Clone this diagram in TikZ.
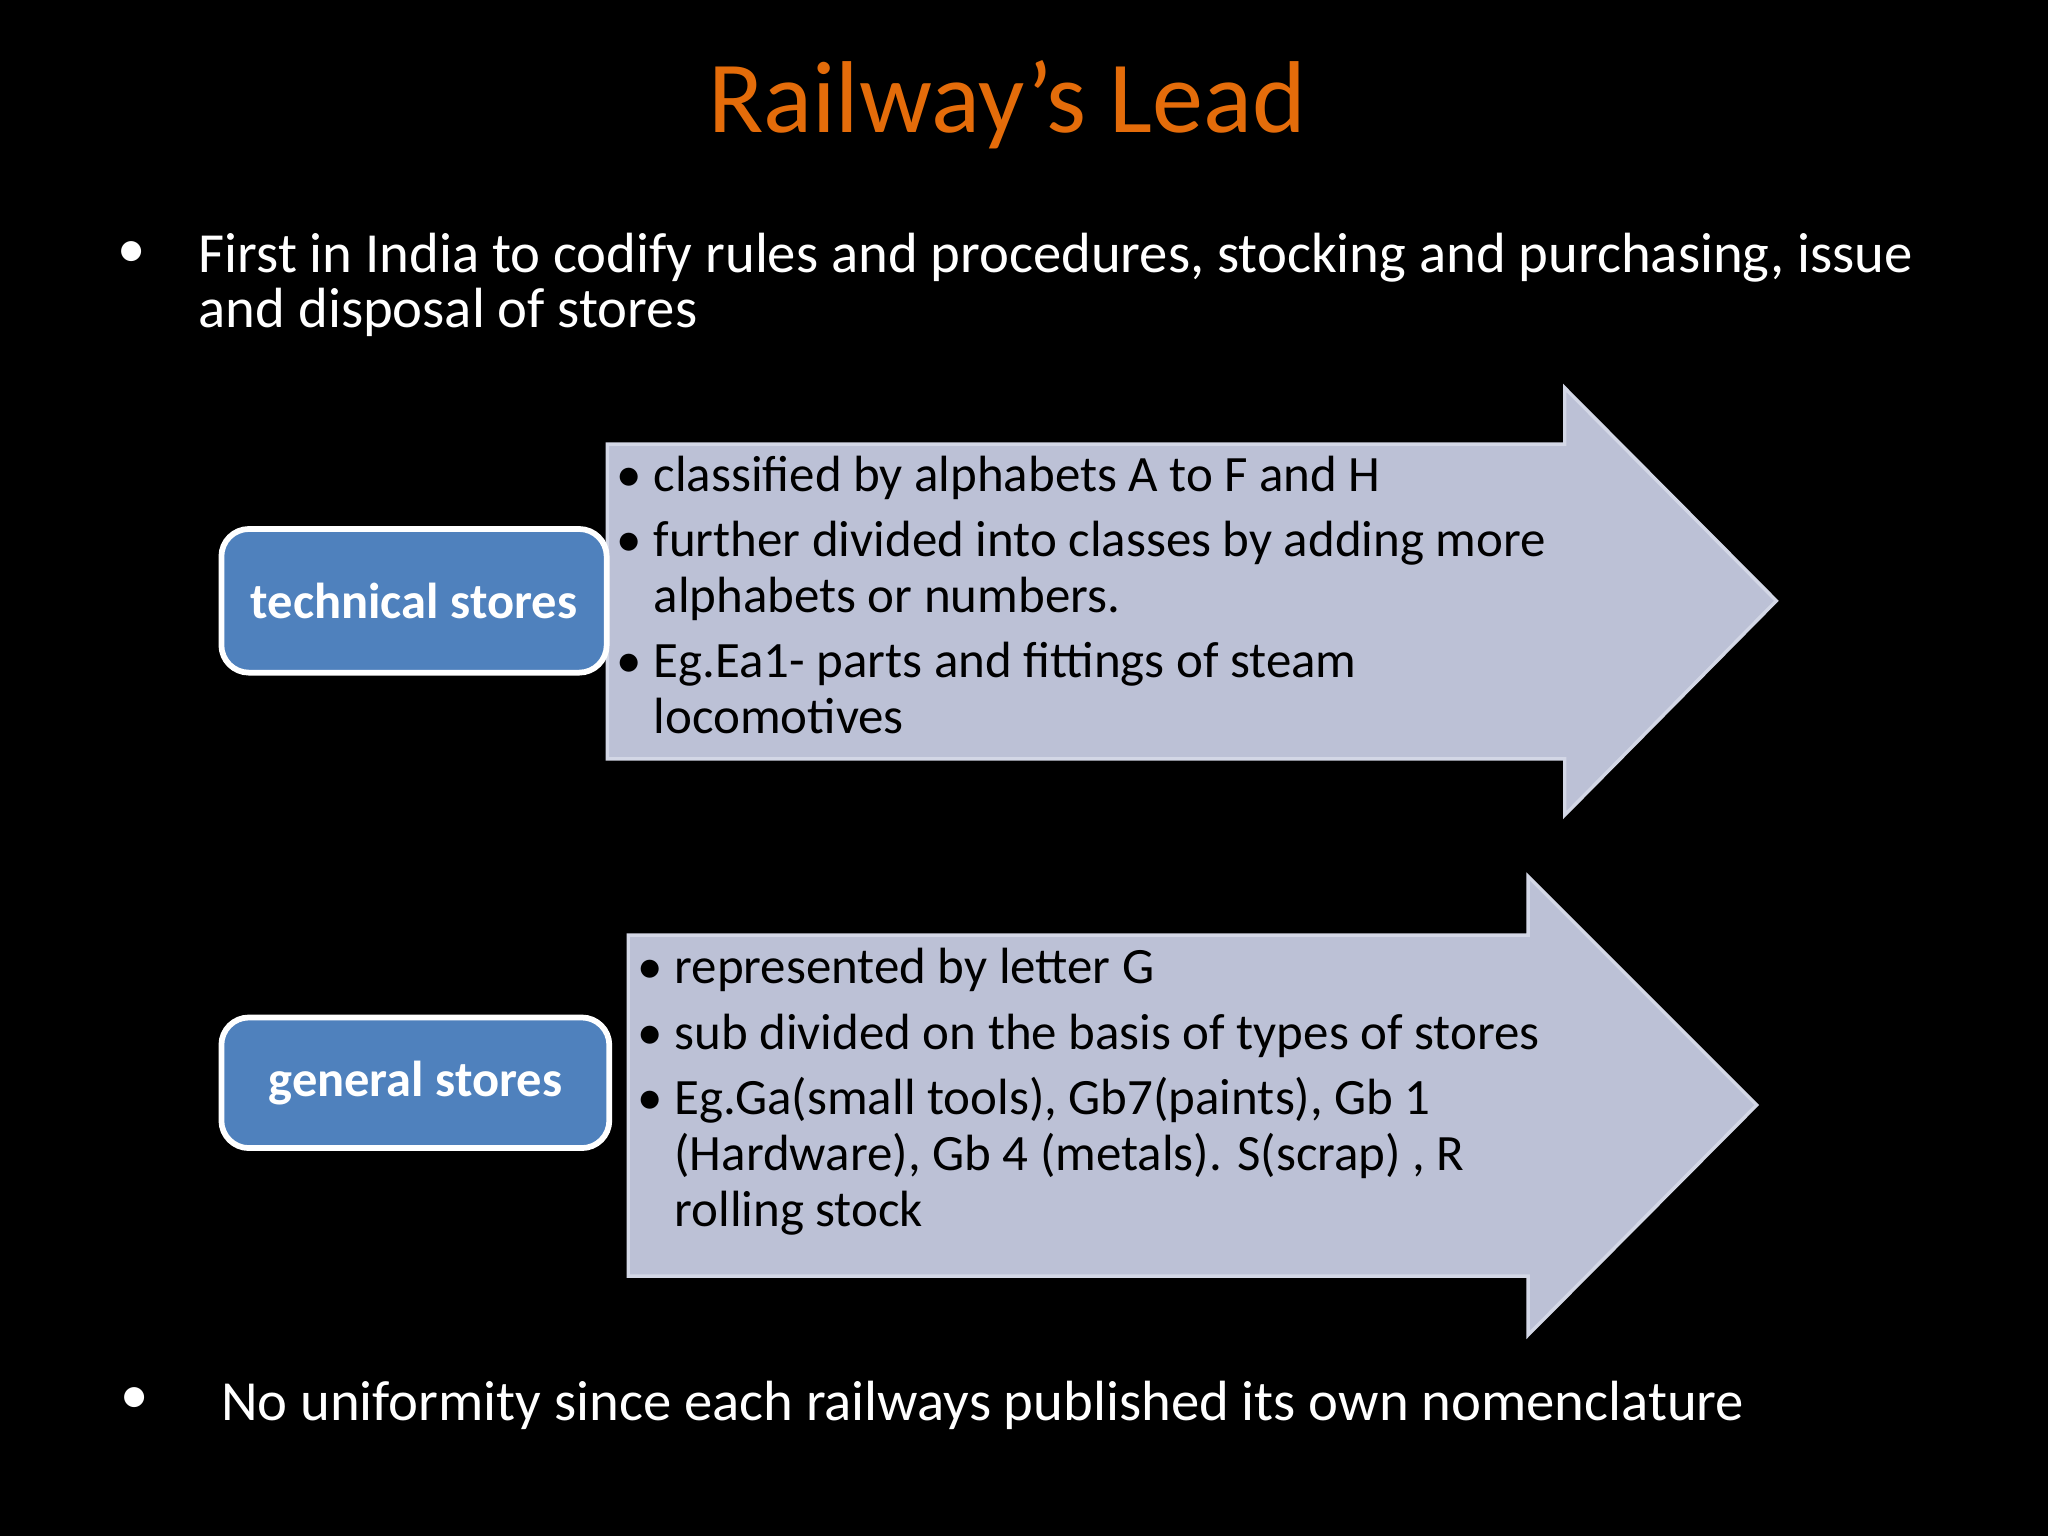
\documentclass[tikz,border=0pt]{standalone}
\usepackage{fontspec}
\setmainfont{Carlito}
\begin{document}
\begin{tikzpicture}[x=0.02cm,y=-0.02cm,
  arr/.style={fill=arrfill,draw=arrline,line width=1.5pt},
  cat/.style={draw=white,line width=2.5pt,fill=catfill,rounded corners=12pt,text=white,font=\bfseries\fontsize{22}{26}\selectfont},
  body/.style={text=white,font=\fontsize{24.7}{24}\selectfont,anchor=west},
  lst/.style={text=black,font=\fontsize{22.2}{24.4}\selectfont,anchor=north west,align=left}]
\definecolor{arrfill}{HTML}{BCC1D6}
\definecolor{arrline}{HTML}{D3D7E6}
\definecolor{catfill}{HTML}{4F81BD}
\definecolor{ttl}{HTML}{E46C0A}
\fill[black] (0,0) rectangle (1568,1176);
\useasboundingbox (0,0) rectangle (1568,1176);
\node[text=ttl,font=\fontsize{44.5}{50}\selectfont] (title) at (771,80) {Railway’s Lead};
\node[text=white,font=\fontsize{24.7}{25}\selectfont] (b1) at (101,195) {•};
\node[body,anchor=north west,align=left] (t1) at (146,172) {First in India to codify rules and procedures, stocking and purchasing, issue\\and disposal of stores};
% arrow 1
\draw[arr] (465,340) -- (1198,340) -- (1198,297) -- (1360,460) -- (1198,624) -- (1198,581) -- (465,581) -- cycle;
\node[lst] (l1) at (466,343) {• classified by alphabets A to F and H\\[4pt]
• further divided into classes by adding more\\
\phantom{• }alphabets or numbers.\\[4pt]
• Eg.Ea1- parts and fittings of steam\\
\phantom{• }locomotives};
\node[cat,minimum width=295*0.02cm,minimum height=110*0.02cm] (ts) at (317,460) {technical stores};
% arrow 2
\draw[arr] (481,716) -- (1170,716) -- (1170,671) -- (1345,846) -- (1170,1022) -- (1170,977) -- (481,977) -- cycle;
\node[lst] (l2) at (482,720) {• represented by letter G\\[4pt]
• sub divided on the basis of types of stores\\[4pt]
• Eg.Ga(small tools), Gb7(paints), Gb 1\\
\phantom{• }(Hardware), Gb 4 (metals). S(scrap) , R\\
\phantom{• }rolling stock};
\node[cat,minimum width=297*0.02cm,minimum height=100*0.02cm] (gs) at (318,829) {general stores};
\node[text=white,font=\fontsize{24.7}{25}\selectfont] (b2) at (103,1072) {•};
\node[body] (t2) at (163,1076) {No uniformity since each railways published its own nomenclature};
\end{tikzpicture}
\end{document}
